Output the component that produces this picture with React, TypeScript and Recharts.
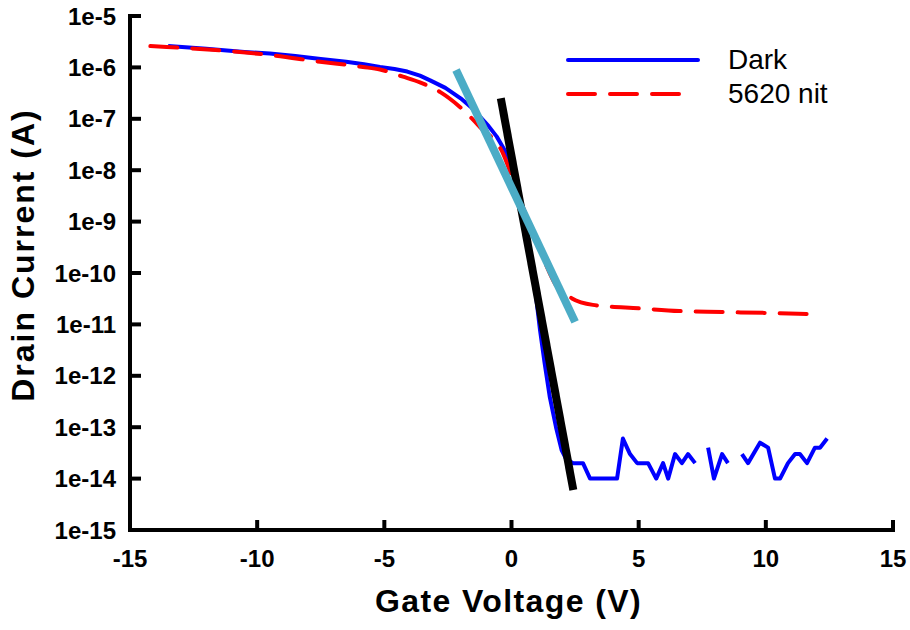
import { LineChart, Line, XAxis, YAxis, Legend, Label } from 'recharts';

const FONT = '"Liberation Sans", Arial, sans-serif';

const xTicks = [-15, -10, -5, 0, 5, 10, 15];
const yTicks = [1e-15, 1e-14, 1e-13, 1e-12, 1e-11, 1e-10, 1e-9, 1e-8, 1e-7, 1e-6, 1e-5];
const yTickLabels = ['1e-15', '1e-14', '1e-13', '1e-12', '1e-11', '1e-10', '1e-9', '1e-8', '1e-7', '1e-6', '1e-5'];

// Dark (blue), null = gap in the measurement
const darkVoltage = [
  -13.5, -12.0, -10.5, -9.5, -8.5, -7.5, -6.5, -5.8, -5.17, -4.6, -4.1, -3.6, -3.2, -2.6, -2.0, -1.6,
  -1.24, -0.9, -0.58, -0.19, 0.1, 0.4, 0.7, 0.95, 1.12, 1.3, 1.5, 1.75, 1.97, 2.15, 2.42, 2.81, 3.09,
  4.15, 4.38, 4.66, 4.94, 5.37, 5.69, 5.96, 6.16, 6.43, 6.7, 6.94, 7.22, 7.47, 7.73, 7.96, 8.28, 8.51,
  8.8, 9.06, 9.3, 9.77, 10.09, 10.36, 10.56, 10.87, 11.15, 11.34, 11.62, 11.93, 12.13, 12.41,
];
const darkCurrent = [
  2.6e-6, 2.3e-6, 2.0e-6, 1.86e-6, 1.66e-6, 1.45e-6, 1.29e-6, 1.15e-6, 1.02e-6, 9.3e-7, 8.3e-7, 6.9e-7,
  5.6e-7, 4.0e-7, 2.5e-7, 1.7e-7, 1.1e-7, 7.2e-8, 4.5e-8, 2.1e-8, 8.9e-9, 1.8e-9, 2.5e-10, 4.0e-11,
  7.9e-12, 1.8e-12, 4.0e-13, 1.0e-13, 3.6e-14, 2.4e-14, 2e-14, 2e-14, 1e-14, 1e-14, 6e-14, 3e-14, 2e-14,
  2e-14, 1e-14, 2e-14, 1e-14, 3e-14, 2e-14, 3e-14, 2e-14, null, 4e-14, 1e-14, 3e-14, 2e-14, null, 3e-14,
  2e-14, 5e-14, 4e-14, 1e-14, 1e-14, 2e-14, 3e-14, 3e-14, 2e-14, 4e-14, 4e-14, 6e-14,
];

// 5620 nit (red dashed)
const litVoltage = [
  -14.2, -13.56, -11.46, -9.5, -7.53, -5.84, -5.17, -4.27, -3.6, -2.8, -2.03, -1.24, -0.33, 0.06, 0.45,
  1.0, 1.4, 1.79, 2.1, 2.38, 3.2, 5.05, 6.6, 8.3, 10.3, 11.8,
];
const litCurrent = [
  2.6e-6, 2.5e-6, 2.14e-6, 1.74e-6, 1.29e-6, 1.02e-6, 9.1e-7, 6.6e-7, 5.1e-7, 3.3e-7, 1.7e-7, 6.9e-8,
  2.1e-8, 6.5e-9, 1.9e-9, 4.4e-10, 1.3e-10, 5.4e-11, 4.0e-11, 3.2e-11, 2.4e-11, 2.05e-11, 1.82e-11,
  1.74e-11, 1.66e-11, 1.58e-11,
];

// fitted subthreshold slopes
const steepFitVoltage = [-0.42, 2.43];
const steepFitCurrent = [2.5e-7, 6.0e-15];
const shallowFitVoltage = [-2.18, 2.5];
const shallowFitCurrent = [8.9e-7, 1.12e-11];

const legendItems = [
  { name: 'Dark', color: '#0000ff', dash: undefined, len: 130 },
  { name: '5620 nit', color: '#ff0000', dash: '27 15', len: 115 },
];

const zip = (v: number[], i: (number | null)[]) => v.map((x, k) => ({ v: x, i: i[k] }));

const darkData = zip(darkVoltage, darkCurrent);
const litData = zip(litVoltage, litCurrent);
const steepData = zip(steepFitVoltage, steepFitCurrent);
const shallowData = zip(shallowFitVoltage, shallowFitCurrent);

const YTick = (props: any) => {
  const { x, y, payload, index } = props;
  const k = yTicks.indexOf(payload.value);
  return (
    <g>
      <line x1={x} y1={y} x2={x + 11} y2={y} stroke="#000" strokeWidth={4} />
      <text x={x - 14} y={y} dy="0.36em" textAnchor="end" fontFamily={FONT} fontWeight="bold" fontSize={24} fill="#000">
        {yTickLabels[k >= 0 ? k : index]}
      </text>
    </g>
  );
};

const XTick = (props: any) => {
  const { x, y, payload } = props;
  return (
    <g>
      <line x1={x} y1={y} x2={x} y2={y - 10} stroke="#000" strokeWidth={4} />
      <text x={x} y={y + 28} dy="0.36em" textAnchor="middle" fontFamily={FONT} fontWeight="bold" fontSize={24} fill="#000">
        {payload.value}
      </text>
    </g>
  );
};

const LegendBox = () => (
  <div style={{ fontFamily: FONT, fontSize: 28, color: '#000' }}>
    {legendItems.map((item) => (
      <div key={item.name} style={{ display: 'flex', alignItems: 'center', height: 34 }}>
        <svg width={135} height={10} style={{ display: 'block' }}>
          <line
            x1={2}
            y1={5}
            x2={2 + item.len}
            y2={5}
            stroke={item.color}
            strokeWidth={4}
            strokeLinecap="round"
            strokeDasharray={item.dash}
          />
        </svg>
        <span style={{ marginLeft: 27 }}>{item.name}</span>
      </div>
    ))}
  </div>
);

export default function App() {
  return (
    <div style={{ position: 'absolute', left: 0, top: 0 }}>
      <LineChart width={910} height={630} margin={{ top: 16, right: 17, bottom: 0, left: 0 }}>
        <XAxis
          dataKey="v"
          type="number"
          domain={[-15, 15]}
          ticks={xTicks}
          allowDataOverflow
          height={100}
          tickSize={0}
          tickMargin={0}
          tickLine={false}
          axisLine={{ stroke: '#000', strokeWidth: 4, strokeLinecap: 'square' }}
          tick={<XTick />}
          interval={0}
        >
          <Label
            content={({ viewBox }: any) => (
              <text
                x={viewBox.x + viewBox.width / 2 - 3}
                y={viewBox.y + 82}
                textAnchor="middle"
                fontFamily={FONT}
                fontWeight="bold"
                fontSize={32}
                letterSpacing={1.4}
                fill="#000"
              >
                Gate Voltage (V)
              </text>
            )}
          />
        </XAxis>
        <YAxis
          dataKey="i"
          type="number"
          scale="log"
          domain={[1e-15, 1e-5]}
          ticks={yTicks}
          allowDataOverflow
          width={130}
          tickSize={0}
          tickMargin={0}
          tickLine={false}
          axisLine={{ stroke: '#000', strokeWidth: 4, strokeLinecap: 'square' }}
          tick={<YTick />}
          interval={0}
        >
          <Label
            content={({ viewBox }: any) => {
              const cx = viewBox.x + 34;
              const cy = viewBox.y + viewBox.height / 2 - 18;
              return (
                <text
                  x={cx}
                  y={cy}
                  transform={`rotate(-90, ${cx}, ${cy})`}
                  textAnchor="middle"
                  fontFamily={FONT}
                  fontWeight="bold"
                  fontSize={32}
                  letterSpacing={2}
                  fill="#000"
                >
                  Drain Current (A)
                </text>
              );
            }}
          />
        </YAxis>
        <Legend
          layout="vertical"
          align="center"
          verticalAlign="middle"
          content={<LegendBox />}
          wrapperStyle={{ left: 566, top: 43, width: 320 }}
        />
        <Line
          data={darkData}
          dataKey="i"
          type="linear"
          stroke="#0000ff"
          strokeWidth={4}
          strokeLinejoin="round"
          dot={false}
          activeDot={false}
          isAnimationActive={false}
        />
        <Line
          data={litData}
          dataKey="i"
          type="monotone"
          stroke="#ff0000"
          strokeWidth={4}
          strokeDasharray="27 15"
          strokeLinecap="round"
          dot={false}
          activeDot={false}
          isAnimationActive={false}
        />
        <Line
          data={steepData}
          dataKey="i"
          type="linear"
          stroke="#000000"
          strokeWidth={8}
          dot={false}
          activeDot={false}
          isAnimationActive={false}
        />
        <Line
          data={shallowData}
          dataKey="i"
          type="linear"
          stroke="#4bacc6"
          strokeWidth={8}
          dot={false}
          activeDot={false}
          isAnimationActive={false}
        />
      </LineChart>
    </div>
  );
}
